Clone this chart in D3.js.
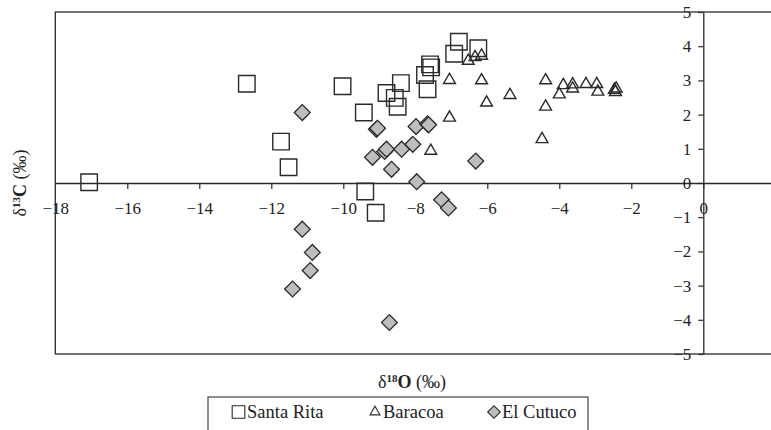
<!DOCTYPE html>
<html>
<head>
<meta charset="utf-8">
<script src="https://cdn.jsdelivr.net/npm/d3@7/dist/d3.min.js"></script>
<style>
  html, body { margin: 0; padding: 0; background: #fff; }
  svg { display: block; }
  text { font-family: 'Liberation Serif', 'Times New Roman', serif; fill: #222; }
</style>
</head>
<body>
<svg id="chart" width="771" height="430"></svg>
<script>
// ---- Data (δ18O, δ13C) ----
const santaRita = [
  [-17.06, 0.02], [-12.68, 2.90], [-11.73, 1.21], [-11.52, 0.46], [-10.02, 2.83],
  [-9.43, 2.06], [-9.39, -0.25], [-9.10, -0.87], [-8.80, 2.63], [-8.57, 2.49],
  [-8.49, 2.23], [-8.40, 2.92], [-7.73, 3.16], [-7.66, 2.74], [-7.59, 3.47],
  [-7.56, 3.38], [-6.92, 3.78], [-6.79, 4.13], [-6.25, 3.94]
];
const baracoa = [
  [-7.57, 0.94], [-7.05, 3.01], [-7.05, 1.91], [-6.53, 3.57], [-6.34, 3.68],
  [-6.16, 3.72], [-6.16, 3.00], [-6.02, 2.35], [-5.37, 2.57], [-4.48, 1.28],
  [-4.38, 3.00], [-4.38, 2.23], [-4.00, 2.59], [-3.89, 2.86], [-3.63, 2.88],
  [-3.63, 2.76], [-3.26, 2.89], [-2.96, 2.89], [-2.93, 2.67], [-2.47, 2.72],
  [-2.44, 2.66], [-2.42, 2.76]
];
const elCutuco = [
  [-11.41, -3.10], [-11.14, 2.06], [-11.14, -1.35], [-10.92, -2.56], [-10.86, -2.03],
  [-9.19, 0.75], [-9.08, 1.57], [-9.05, 1.60], [-8.85, 0.92], [-8.80, 0.99],
  [-8.72, -4.08], [-8.66, 0.40], [-8.38, 0.99], [-8.07, 1.13], [-7.98, 1.65],
  [-7.96, 0.04], [-7.66, 1.73], [-7.63, 1.70], [-7.27, -0.49], [-7.08, -0.73],
  [-6.32, 0.64]
];
const xTicks = [-18, -16, -14, -12, -10, -8, -6, -4, -2, 0];
const yTicks = [-5, -4, -3, -2, -1, 0, 1, 2, 3, 4, 5];
const seriesNames = ["Santa Rita", "Baracoa", "El Cutuco"];

// ---- Layout ----
const svg = d3.select("#chart");
const mLeft = 55.3, mRight = 775.3, mTop = 12, mBottom = 354;
const x = d3.scaleLinear().domain([-18, 2]).range([mLeft, mRight]);
const y = d3.scaleLinear().domain([-5, 5]).range([mBottom, mTop]);
const stroke = "#2a2a2a";
const fmt = d => (d < 0 ? "\u2212" + Math.abs(d) : String(d));

// frame
svg.append("rect")
  .attr("x", mLeft).attr("y", mTop)
  .attr("width", mRight - mLeft).attr("height", mBottom - mTop)
  .attr("fill", "none").attr("stroke", stroke).attr("stroke-width", 1.3);

// x axis at y = 0
const gx = svg.append("g").attr("transform", `translate(0,${y(0)})`)
  .call(d3.axisBottom(x).tickValues(xTicks).tickSize(6).tickSizeOuter(0).tickPadding(13).tickFormat(fmt));
// y axis at x = 0
const gy = svg.append("g").attr("transform", `translate(${x(0)},0)`)
  .call(d3.axisLeft(y).tickValues(yTicks).tickSize(5).tickSizeOuter(0).tickPadding(7).tickFormat(fmt));

[gx, gy].forEach(g => {
  g.select(".domain").attr("stroke", stroke).attr("stroke-width", 1.3);
  g.selectAll(".tick line").attr("stroke", stroke).attr("stroke-width", 1.2);
  g.selectAll(".tick text").attr("fill", "#222")
    .style("font-family", "'Liberation Serif', 'Times New Roman', serif")
    .style("font-size", "17px");
});
gx.selectAll(".tick").filter(d => d === -18).select("line").remove();

// ---- markers ----
const symSquare = d3.symbol().type(d3.symbolSquare).size(16.5 * 16.5)();
const symTri = d3.symbol().type(d3.symbolTriangle2).size(100)();
const symDia = d3.symbol().type(d3.symbolSquare).size(11.2 * 11.2)();

const marks = svg.append("g");
marks.selectAll("path.sr").data(santaRita).join("path")
  .attr("class", "sr").attr("d", symSquare)
  .attr("transform", d => `translate(${x(d[0])},${y(d[1])})`)
  .attr("fill", "none").attr("stroke", stroke).attr("stroke-width", 1.4);
marks.selectAll("path.ba").data(baracoa).join("path")
  .attr("class", "ba").attr("d", symTri)
  .attr("transform", d => `translate(${x(d[0])},${y(d[1])})`)
  .attr("fill", "none").attr("stroke", stroke).attr("stroke-width", 1.4);
marks.selectAll("path.ec").data(elCutuco).join("path")
  .attr("class", "ec").attr("d", symDia)
  .attr("transform", d => `translate(${x(d[0])},${y(d[1])}) rotate(45)`)
  .attr("fill", "#bdbdbd").attr("stroke", stroke).attr("stroke-width", 1.3);

// ---- axis titles ----
const xt = svg.append("text").attr("x", 412).attr("y", 388)
  .attr("text-anchor", "middle").style("font-size", "18px");
xt.append("tspan").text("δ");
xt.append("tspan").attr("dy", -6).style("font-size", "11px").style("font-weight", "bold").text("18");
xt.append("tspan").attr("dy", 6).style("font-weight", "bold").text("O");
xt.append("tspan").text(" (‰)");

const yt = svg.append("text").attr("transform", `translate(26,183) rotate(-90)`)
  .attr("text-anchor", "middle").style("font-size", "18px");
yt.append("tspan").text("δ");
yt.append("tspan").attr("dy", -6).style("font-size", "11px").style("font-weight", "bold").text("13");
yt.append("tspan").attr("dy", 6).style("font-weight", "bold").text("C");
yt.append("tspan").text(" (‰)");

// ---- legend ----
const lg = svg.append("g");
lg.append("rect").attr("x", 208).attr("y", 397).attr("width", 380).attr("height", 45)
  .attr("fill", "none").attr("stroke", "#444").attr("stroke-width", 1.2);
const legendItems = [
  { name: seriesNames[0], sx: 238.5, tx: 247, d: d3.symbol().type(d3.symbolSquare).size(160)(), fill: "none", rot: 0 },
  { name: seriesNames[1], sx: 375, tx: 383, d: d3.symbol().type(d3.symbolTriangle2).size(72)(), fill: "none", rot: 0 },
  { name: seriesNames[2], sx: 494, tx: 502, d: d3.symbol().type(d3.symbolSquare).size(80)(), fill: "#bdbdbd", rot: 45 }
];
legendItems.forEach(it => {
  lg.append("path").attr("d", it.d)
    .attr("transform", `translate(${it.sx},412) rotate(${it.rot})`)
    .attr("fill", it.fill).attr("stroke", stroke).attr("stroke-width", 1.1);
  lg.append("text").attr("x", it.tx).attr("y", 418).style("font-size", "18.5px").text(it.name);
});
</script>
</body>
</html>
